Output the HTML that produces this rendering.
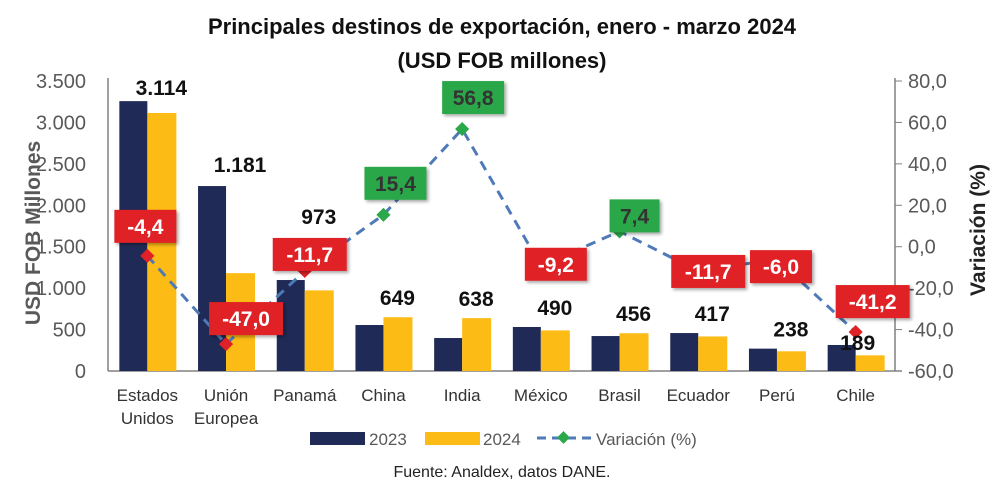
<!DOCTYPE html>
<html><head><meta charset="utf-8"><style>
body{margin:0;background:#fff;width:1004px;height:488px;overflow:hidden;font-family:"Liberation Sans","DejaVu Sans",sans-serif}
</style></head><body>
<svg id="chart" width="1004" height="488" xmlns="http://www.w3.org/2000/svg">
<defs><filter id="sh" x="-20%" y="-20%" width="150%" height="150%"><feDropShadow dx="2" dy="2" stdDeviation="1.5" flood-color="#000" flood-opacity="0.35"/></filter></defs>
<text x="502" y="34" text-anchor="middle" font-size="22" font-weight="bold" fill="#111">Principales destinos de exportación, enero - marzo 2024</text>
<text x="502" y="68" text-anchor="middle" font-size="22" font-weight="bold" fill="#111">(USD FOB millones)</text>
<g id="plot"></g>
<text transform="translate(40,233) rotate(-90)" text-anchor="middle" font-size="21" font-weight="bold" fill="#595959">USD FOB Millones</text>
<text transform="translate(985,230) rotate(-90)" text-anchor="middle" font-size="21" font-weight="bold" fill="#222">Variación (%)</text>
<g>
<rect x="310" y="432" width="55" height="13" fill="#1f2a56"/>
<text x="369" y="445" font-size="17" fill="#595959">2023</text>
<rect x="425" y="432" width="55" height="13" fill="#fdbb15"/>
<text x="483" y="445" font-size="17" fill="#595959">2024</text>
<line x1="537" y1="438" x2="592" y2="438" stroke="#4f7ab8" stroke-width="3" stroke-dasharray="9,6"/>
<rect x="559" y="433" width="9" height="9" fill="#2aa84a" transform="rotate(45 563.5 437.5)"/>
<text x="596" y="445" font-size="17" fill="#595959">Variación (%)</text>
</g>
<text x="502" y="477" text-anchor="middle" font-size="16" fill="#222">Fuente: Analdex, datos DANE.</text>
</svg>
<script>
const categories=[["Estados","Unidos"],["Unión","Europea"],["Panamá"],["China"],["India"],["México"],["Brasil"],["Ecuador"],["Perú"],["Chile"]];
const values2023=[3257,2232,1098,555,398,531,422,458,270,314];
const values2024=[3114,1181,973,649,638,490,456,417,238,189];
const labels2024=["3.114","1.181","973","649","638","490","456","417","238","189"];
const variation=[-4.4,-47.0,-11.7,15.4,56.8,-9.2,7.4,-11.7,-6.0,-41.2];
const varLabels=["-4,4","-47,0","-11,7","15,4","56,8","-9,2","7,4","-11,7","-6,0","-41,2"];
const leftTicks=[0,500,1000,1500,2000,2500,3000,3500];
const leftTickLabels=["0","500","1.000","1.500","2.000","2.500","3.000","3.500"];
const rightTicks=[-60,-40,-20,0,20,40,60,80];
const rightTickLabels=["-60,0","-40,0","-20,0","0,0","20,0","40,0","60,0","80,0"];
const X0=108,X1=895,Y0=371,Y1=81;
const bw=(X1-X0)/categories.length;
const yL=v=>Y0-(v/3500)*(Y0-Y1);
const yR=v=>Y0-((v+60)/140)*(Y0-Y1);
const xC=i=>X0+bw*(i+0.5);
const lblOff=[[-2,-30],[20,-26],[5,-17],[12,-32],[11,-32],[15,-2],[15,-16],[10,0],[4,7],[17,-31]];
const valOff=[[0,-6],[0,-14],[0,-56],[0,-12],[0,-12],[0,-12],[0,-12],[0,-12],[0,-12],[-12,5]];
const NS="http://www.w3.org/2000/svg";
const g=document.getElementById('plot');
function mk(t,a,p){const e=document.createElementNS(NS,t);for(const k in a)e.setAttribute(k,a[k]);(p||g).appendChild(e);return e;}
let e=mk('line',{x1:X0,y1:Y1-3,x2:X0,y2:Y0,stroke:'#808080','stroke-width':1.5});


e=mk('line',{x1:X1,y1:Y1-3,x2:X1,y2:Y0,stroke:'#808080','stroke-width':1.5});


e=mk('line',{x1:X0,y1:Y0,x2:X1+7,y2:Y0,stroke:'#808080','stroke-width':1.5});


leftTicks.forEach((t,i)=>{const tx=mk('text',{x:86,y:yL(t)+7,'text-anchor':'end','font-size':20,fill:'#595959'});tx.textContent=leftTickLabels[i];

});
rightTicks.forEach((t,i)=>{mk('line',{x1:X1,y1:yR(t),x2:X1+7,y2:yR(t),stroke:'#808080'});const tx=mk('text',{x:908,y:yR(t)+7,'font-size':20,fill:'#595959'});tx.textContent=rightTickLabels[i];

});
categories.forEach((c,i)=>{
 const b1=mk('rect',{x:xC(i)-28,y:yL(values2023[i]),width:28,height:Y0-yL(values2023[i]),fill:'#1f2a56'});
 
 
 const b2=mk('rect',{x:xC(i),y:yL(values2024[i]),width:29,height:Y0-yL(values2024[i]),fill:'#fdbb15'});
 
 
 c.forEach((line,j)=>{const tx=mk('text',{x:xC(i),y:401+j*23,'text-anchor':'middle','font-size':17,fill:'#333'});tx.textContent=line;
 
 });
});
const pts=variation.map((v,i)=>[xC(i),yR(v)]);
e=mk('polyline',{points:pts.map(p=>p.join(',')).join(' '),fill:'none',stroke:'#4f7ab8','stroke-width':3,'stroke-dasharray':'10,7'});


variation.forEach((v,i)=>{
 const col=v>=0?'#2aa84a':'#e02127';
 const m=mk('rect',{x:pts[i][0]-5,y:pts[i][1]-5,width:10,height:10,fill:col,transform:`rotate(45 ${pts[i][0]} ${pts[i][1]})`});
 
 
 const cx=pts[i][0]+lblOff[i][0],cy=pts[i][1]+lblOff[i][1];
 const w=varLabels[i].length*12+14;
 const r=mk('rect',{x:cx-w/2,y:cy-16,width:w,height:33,fill:col,filter:'url(#sh)'});
 
 
 const tx=mk('text',{x:cx,y:cy+8,'text-anchor':'middle','font-size':21,'font-weight':'bold',fill:v>=0?'#333':'#fff'});
 tx.textContent=varLabels[i];
 
 
});
categories.forEach((c,i)=>{
 const topY=Math.min(yL(values2023[i]),yL(values2024[i]));
 const vl=mk('text',{x:xC(i)+14+valOff[i][0],y:topY+valOff[i][1],'text-anchor':'middle','font-size':21,'font-weight':'bold',fill:'#111'});
 vl.textContent=labels2024[i];
 
 
});
</script>
</body></html>
